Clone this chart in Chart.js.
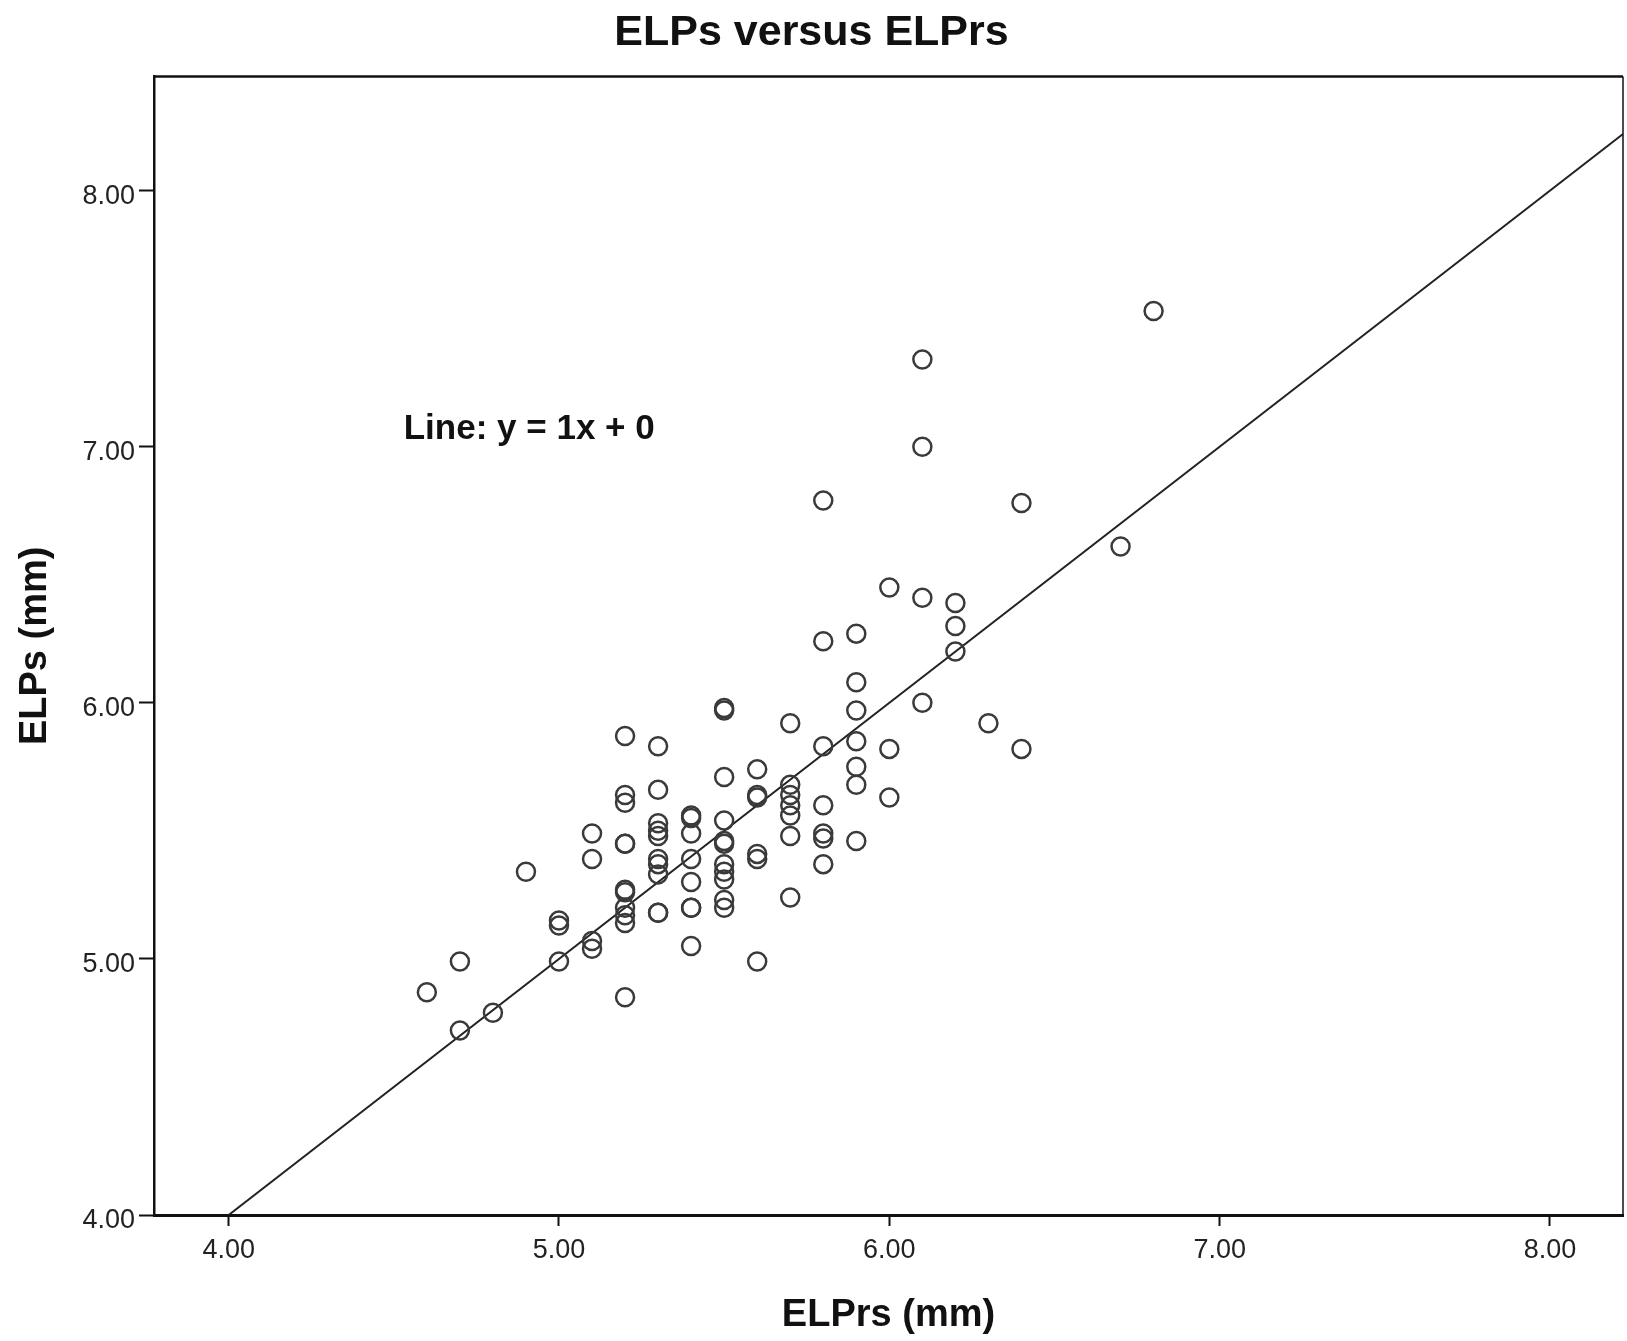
<!DOCTYPE html>
<html>
<head>
<meta charset="utf-8">
<title>ELPs versus ELPrs</title>
<script src="https://cdn.jsdelivr.net/npm/chart.js@4.4.1/dist/chart.umd.min.js"></script>
<style>
  html, body { margin: 0; padding: 0; background: #fff; }
  #wrap { width: 1627px; height: 1341px; }
</style>
</head>
<body>
<div id="wrap"><canvas id="canvas" width="1627" height="1341"></canvas></div>
<script>
// values, grouped by ELPrs column
const elprs = [
  4.6,
  4.7, 4.7,
  4.8,
  4.9,
  5.0, 5.0, 5.0,
  5.1, 5.1, 5.1, 5.1,
  5.2, 5.2, 5.2, 5.2, 5.2, 5.2, 5.2, 5.2, 5.2, 5.2, 5.2,
  5.3, 5.3, 5.3, 5.3, 5.3, 5.3, 5.3, 5.3, 5.3, 5.3,
  5.4, 5.4, 5.4, 5.4, 5.4, 5.4, 5.4, 5.4,
  5.5, 5.5, 5.5, 5.5, 5.5, 5.5, 5.5, 5.5, 5.5, 5.5, 5.5,
  5.6, 5.6, 5.6, 5.6, 5.6, 5.6,
  5.7, 5.7, 5.7, 5.7, 5.7, 5.7, 5.7,
  5.8, 5.8, 5.8, 5.8, 5.8, 5.8, 5.8,
  5.9, 5.9, 5.9, 5.9, 5.9, 5.9, 5.9,
  6.0, 6.0, 6.0,
  6.1, 6.1, 6.1, 6.1,
  6.2, 6.2, 6.2,
  6.3,
  6.4, 6.4,
  6.7,
  6.8
]
const elps = [
  4.87,
  4.99, 4.72,
  4.79,
  5.34,
  4.99, 5.15, 5.13,
  5.49, 5.39, 5.07, 5.04,
  5.87, 5.64, 5.61, 5.45, 5.45, 5.27, 5.26, 5.20, 5.17, 5.14, 4.85,
  5.83, 5.66, 5.53, 5.50, 5.48, 5.39, 5.37, 5.33, 5.18, 5.18,
  5.56, 5.55, 5.49, 5.39, 5.30, 5.20, 5.20, 5.05,
  5.98, 5.97, 5.71, 5.54, 5.46, 5.45, 5.37, 5.34, 5.31, 5.23, 5.20,
  5.74, 5.64, 5.63, 5.41, 5.39, 4.99,
  5.92, 5.68, 5.64, 5.60, 5.56, 5.48, 5.24,
  6.79, 6.24, 5.83, 5.60, 5.49, 5.47, 5.37,
  6.27, 6.08, 5.97, 5.85, 5.75, 5.68, 5.46,
  6.45, 5.82, 5.63,
  7.34, 7.00, 6.41, 6.00,
  6.39, 6.30, 6.20,
  5.92,
  6.78, 5.82,
  6.61,
  7.53
]

const xTicks = [4, 5, 6, 7, 8]
const yTicks = [4, 5, 6, 7, 8]
const xMin = 3.774, xMax = 8.221
const yMin = 4.0, yMax = 8.445

// reference line y = 1x + 0
const fitSlope = 1
const fitIntercept = 0
const fitLabel = 'Line: y = 1x + 0'
const noteAt = { x: 4.53, y: 7.03 }

const FONT = "'Liberation Sans', Arial, Helvetica, sans-serif"
Chart.defaults.font.family = FONT

var points = elprs.map(function (v, i) { return { x: v, y: elps[i] } })

// line only over the part that is inside both axes
var lineFrom = Math.max(xMin, (yMin - fitIntercept) / fitSlope)
var lineTo = Math.min(xMax, (yMax - fitIntercept) / fitSlope)
var fitLine = [lineFrom, lineTo].map(function (v) {
  return { x: v, y: fitSlope * v + fitIntercept }
})

const framePlugin = {
  id: 'frame',
  afterDatasetsDraw(chart) {
    const a = chart.chartArea
    const ctx = chart.ctx
    ctx.save()
    ctx.strokeStyle = '#111'
    ctx.lineWidth = 2.5
    ctx.beginPath()
    ctx.moveTo(a.left, a.top)
    ctx.lineTo(a.right, a.top)
    ctx.stroke()
    ctx.lineWidth = 1.5
    ctx.beginPath()
    ctx.moveTo(a.right, a.top)
    ctx.lineTo(a.right, a.bottom)
    ctx.stroke()
    ctx.restore()
  }
}

const notePlugin = {
  id: 'note',
  afterDatasetsDraw(chart) {
    const ctx = chart.ctx
    const px = chart.scales.x.getPixelForValue(noteAt.x)
    const py = chart.scales.y.getPixelForValue(noteAt.y)
    ctx.save()
    ctx.font = 'bold 35px ' + FONT
    ctx.fillStyle = '#111'
    ctx.textAlign = 'left'
    ctx.textBaseline = 'alphabetic'
    ctx.fillText(fitLabel, px, py)
    ctx.restore()
  }
}

const ctx = document.getElementById('canvas').getContext('2d')
myChart = new Chart(ctx, {
  type: 'scatter',
  data: {
    datasets: [{
      label: 'ELPs',
      data: points,
      pointStyle: 'circle',
      pointRadius: 9,
      pointHoverRadius: 9,
      pointBorderWidth: 2.5,
      borderColor: '#3a3a3a',
      backgroundColor: 'transparent'
    }, {
      type: 'line',
      label: fitLabel,
      data: fitLine,
      borderColor: '#222',
      borderWidth: 2,
      pointRadius: 0,
      fill: false
    }]
  },
  options: {
    responsive: false,
    animation: false,
    layout: { autoPadding: false, padding: { left: 0, right: 4, top: 0, bottom: 0 } },
    plugins: {
      legend: { display: false },
      tooltip: { enabled: false },
      title: {
        display: true,
        text: 'ELPs versus ELPrs',
        color: '#111',
        font: { size: 43, weight: 'bold' },
        padding: { top: 7, bottom: 18 }
      }
    },
    scales: {
      x: {
        type: 'linear',
        min: xMin,
        max: xMax,
        afterBuildTicks: function (s) { s.ticks = xTicks.map(function (v) { return { value: v } }) },
        afterFit: function (s) { s.height = 126 },
        grid: { drawOnChartArea: false, drawTicks: true, tickLength: 11, tickColor: '#111', tickWidth: 2 },
        border: { display: true, color: '#111', width: 3 },
        ticks: {
          color: '#222',
          font: { size: 27 },
          padding: 8,
          maxRotation: 0,
          callback: function (v) { return Number(v).toFixed(2) }
        },
        title: {
          display: true,
          text: 'ELPrs (mm)',
          color: '#111',
          font: { size: 38, weight: 'bold' },
          padding: { top: 0, bottom: 3 }
        }
      },
      y: {
        type: 'linear',
        min: yMin,
        max: yMax,
        afterBuildTicks: function (s) { s.ticks = yTicks.map(function (v) { return { value: v } }) },
        afterFit: function (s) { s.width = 154 },
        grid: { drawOnChartArea: false, drawTicks: true, tickLength: 15, tickColor: '#111', tickWidth: 2 },
        border: { display: true, color: '#111', width: 2.5 },
        ticks: {
          color: '#222',
          font: { size: 27 },
          padding: 4,
          labelOffset: 6,
          callback: function (v) { return Number(v).toFixed(2) }
        },
        title: {
          display: true,
          text: 'ELPs (mm)',
          color: '#111',
          font: { size: 38, weight: 'bold' },
          padding: { top: 13, bottom: 0 }
        }
      }
    }
  },
  plugins: [framePlugin, notePlugin]
})
</script>
</body>
</html>
